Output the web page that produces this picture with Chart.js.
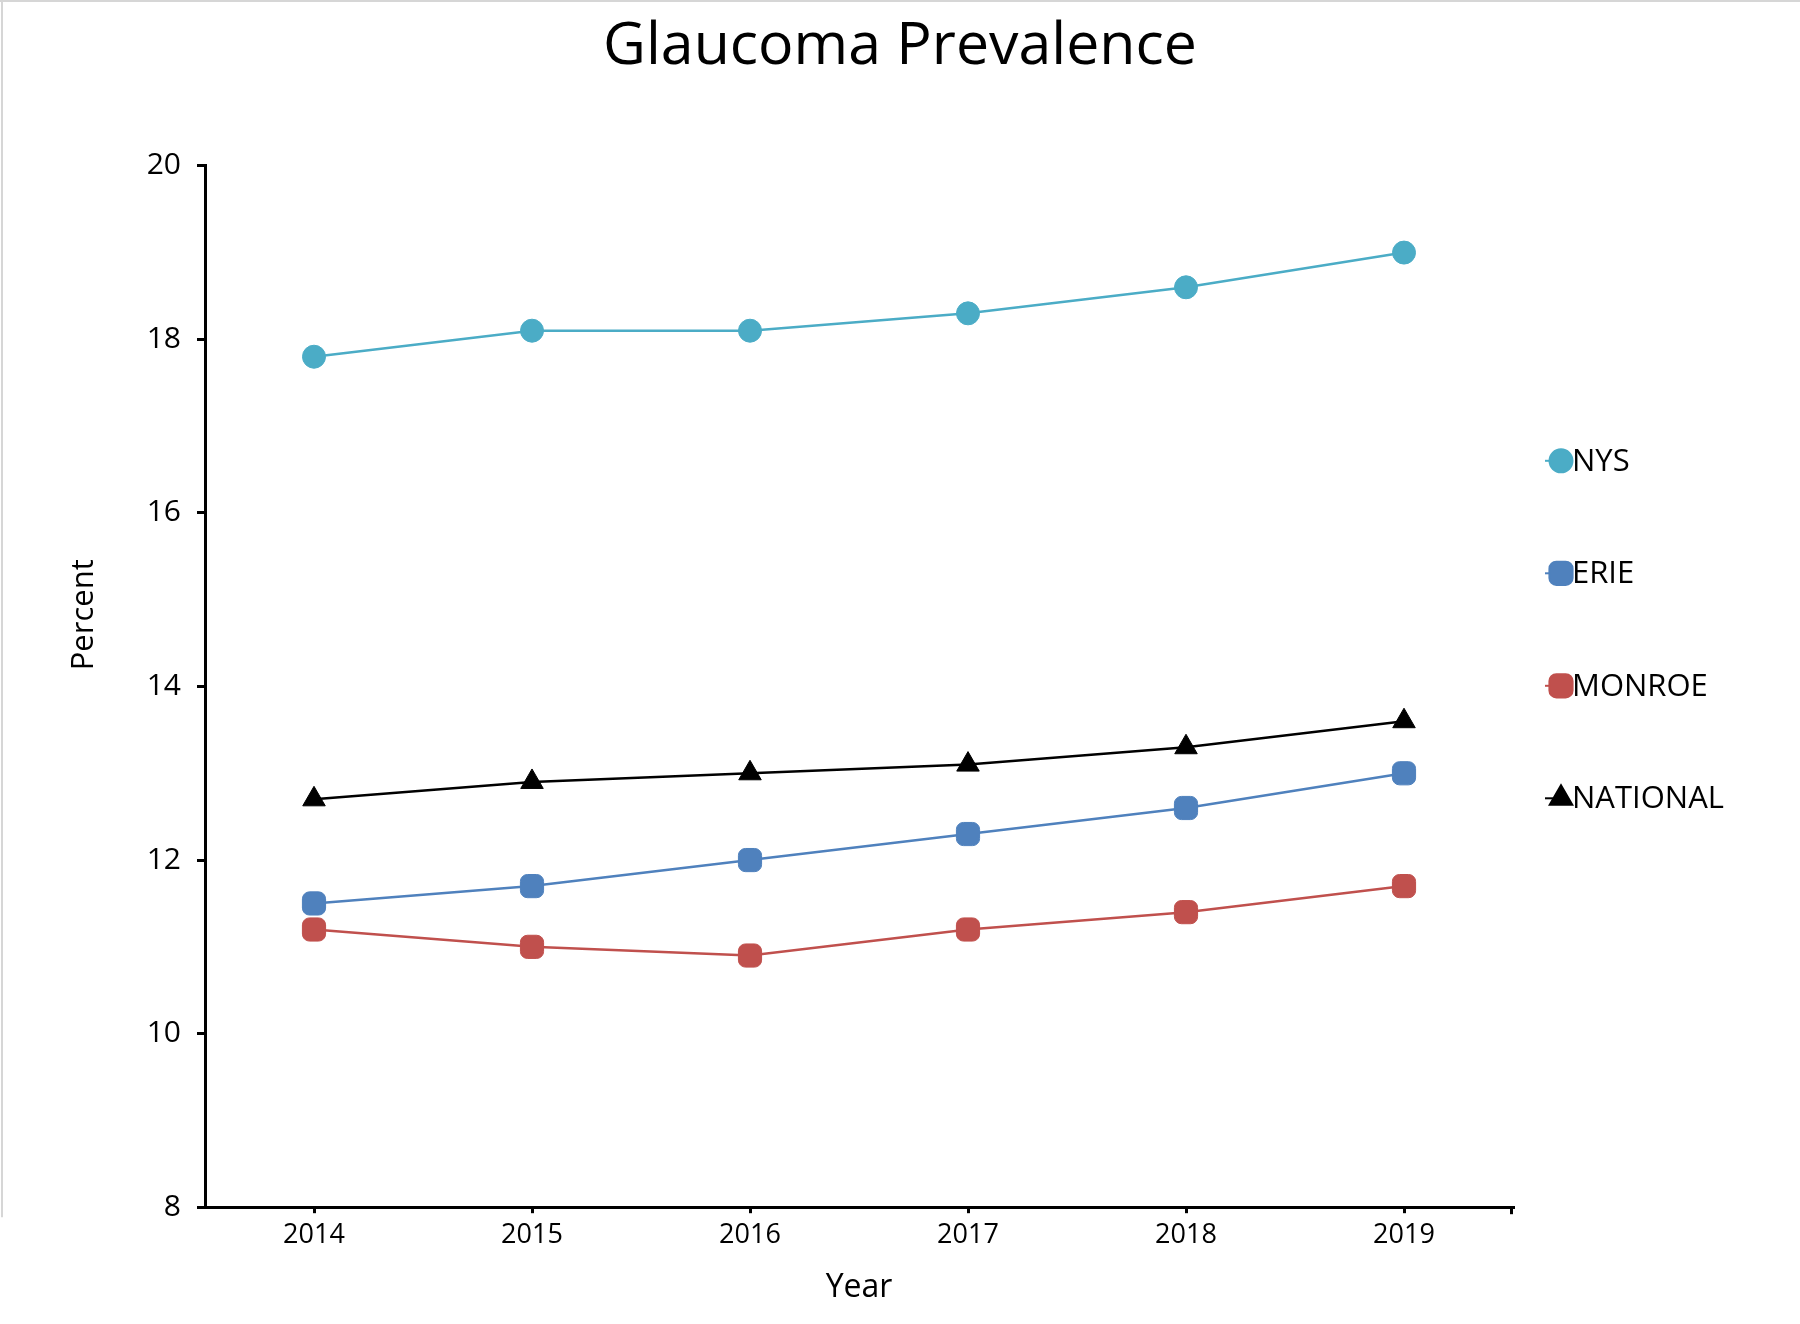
<!DOCTYPE html>
<html>
<head>
<meta charset="utf-8">
<title>Glaucoma Prevalence</title>
<script src="https://cdn.jsdelivr.net/npm/chart.js@4.4.1/dist/chart.umd.min.js"></script>
<style>
  html, body { margin: 0; padding: 0; background: #fff; }
  #wrap { width: 1800px; height: 1324px; position: relative; }
</style>
</head>
<body>
<div id="wrap"><canvas id="glaucomaChart"></canvas></div>
<script>
// values
const years = ['2014', '2015', '2016', '2017', '2018', '2019'];
const nys = [17.8, 18.1, 18.1, 18.3, 18.6, 19.0];
const erie = [11.5, 11.7, 12.0, 12.3, 12.6, 13.0];
const monroe = [11.2, 11.0, 10.9, 11.2, 11.4, 11.7];
const national = [12.7, 12.9, 13.0, 13.1, 13.3, 13.6];
const yTicks = [8, 10, 12, 14, 16, 18, 20];

const FONT = "'Open Sans', 'Noto Sans', sans-serif";

// legend on the right, the y axis title and the frame lines
const extrasPlugin = {
  id: 'extras',
  afterDraw(chart) {
    const ctx = chart.ctx;
    const area = chart.chartArea;
    ctx.save();

    // light frame lines of the original picture
    ctx.strokeStyle = '#d6d6d6';
    ctx.lineWidth = 2;
    ctx.beginPath();
    ctx.moveTo(0, 1);
    ctx.lineTo(chart.width, 1);
    ctx.moveTo(2, 0);
    ctx.lineTo(2, area.bottom + 10);
    ctx.stroke();

    // tick at the right end of the x axis
    ctx.strokeStyle = '#000';
    ctx.lineWidth = 3;
    ctx.beginPath();
    ctx.moveTo(area.right - 1.5, area.bottom);
    ctx.lineTo(area.right - 1.5, area.bottom + 7);
    ctx.stroke();

    // y axis title
    ctx.fillStyle = '#000';
    ctx.font = '31px ' + FONT;
    ctx.textAlign = 'center';
    ctx.textBaseline = 'middle';
    ctx.translate(area.left - 121, area.top + 449);
    ctx.rotate(-Math.PI / 2);
    ctx.fillText('Percent', 0, 0);
    ctx.setTransform(1, 0, 0, 1, 0, 0);

    // legend
    const x0 = area.right + 32;
    let y = area.top + 295;
    chart.data.datasets.forEach(ds => {
      ctx.strokeStyle = ds.borderColor;
      ctx.lineWidth = 2;
      ctx.beginPath();
      ctx.moveTo(x0, y);
      ctx.lineTo(x0 + 16, y);
      ctx.stroke();
      ctx.fillStyle = ds.backgroundColor;
      ctx.strokeStyle = ds.borderColor;
      Chart.helpers.drawPoint(ctx, {
        pointStyle: ds.pointStyle,
        radius: ds.pointRadius,
        rotation: 0,
        borderWidth: 1
      }, x0 + 16, y);
      ctx.fillStyle = '#000';
      ctx.font = '31px ' + FONT;
      ctx.textAlign = 'left';
      ctx.textBaseline = 'middle';
      ctx.fillText(ds.label, x0 + 27, y + 1);
      y += 112.5;
    });
    ctx.restore();
  }
};

new Chart(document.getElementById('glaucomaChart'), {
  type: 'line',
  data: {
    labels: years,
    datasets: [
      {
        label: 'NYS',
        data: nys,
        borderColor: '#4bacc6',
        backgroundColor: '#4bacc6',
        pointStyle: 'circle',
        pointRadius: 11.5
      },
      {
        label: 'ERIE',
        data: erie,
        borderColor: '#4f81bd',
        backgroundColor: '#4f81bd',
        pointStyle: 'rectRounded',
        pointRadius: 13.5
      },
      {
        label: 'MONROE',
        data: monroe,
        borderColor: '#c0504d',
        backgroundColor: '#c0504d',
        pointStyle: 'rectRounded',
        pointRadius: 13.5
      },
      {
        label: 'NATIONAL',
        data: national,
        borderColor: '#000000',
        backgroundColor: '#000000',
        pointStyle: 'triangle',
        pointRadius: 13
      }
    ]
  },
  options: {
    responsive: true,
    maintainAspectRatio: false,
    animation: false,
    elements: {
      line: { borderWidth: 2.5, tension: 0 },
      point: { borderWidth: 1, hoverRadius: 13 }
    },
    layout: {
      padding: { left: 0, right: 0, top: 0, bottom: 17 }
    },
    plugins: {
      legend: { display: false },
      tooltip: { enabled: false },
      title: {
        display: true,
        text: 'Glaucoma Prevalence',
        color: '#000',
        font: { family: FONT, size: 59, weight: 'normal', lineHeight: 1.2 },
        padding: { top: 12, bottom: 83 }
      }
    },
    scales: {
      x: {
        offset: true,
        grid: {
          drawOnChartArea: false,
          drawTicks: true,
          tickLength: 6,
          color: '#000',
          lineWidth: 3
        },
        border: { display: true, color: '#000', width: 3 },
        ticks: {
          color: '#000',
          padding: 6,
          font: { family: FONT, size: 27 }
        },
        title: {
          display: true,
          text: 'Year',
          color: '#000',
          font: { family: FONT, size: 32 },
          padding: { top: 11, bottom: 0 }
        }
      },
      y: {
        min: 8,
        max: 20,
        afterBuildTicks: axis => {
          axis.ticks = yTicks.map(v => ({ value: v }));
        },
        afterFit: axis => { axis.width = 205; },
        grid: {
          drawOnChartArea: false,
          drawTicks: true,
          tickLength: 8,
          color: '#000',
          lineWidth: 3
        },
        border: { display: true, color: '#000', width: 3 },
        ticks: {
          color: '#000',
          padding: 16,
          font: { family: FONT, size: 30 }
        }
      },
      // empty box on the right that keeps room for the legend
      legendSpace: {
        position: 'right',
        display: true,
        afterFit: axis => { axis.width = 287; },
        grid: { display: false },
        border: { display: false },
        ticks: { display: false }
      }
    }
  },
  plugins: [extrasPlugin]
});
</script>
</body>
</html>
